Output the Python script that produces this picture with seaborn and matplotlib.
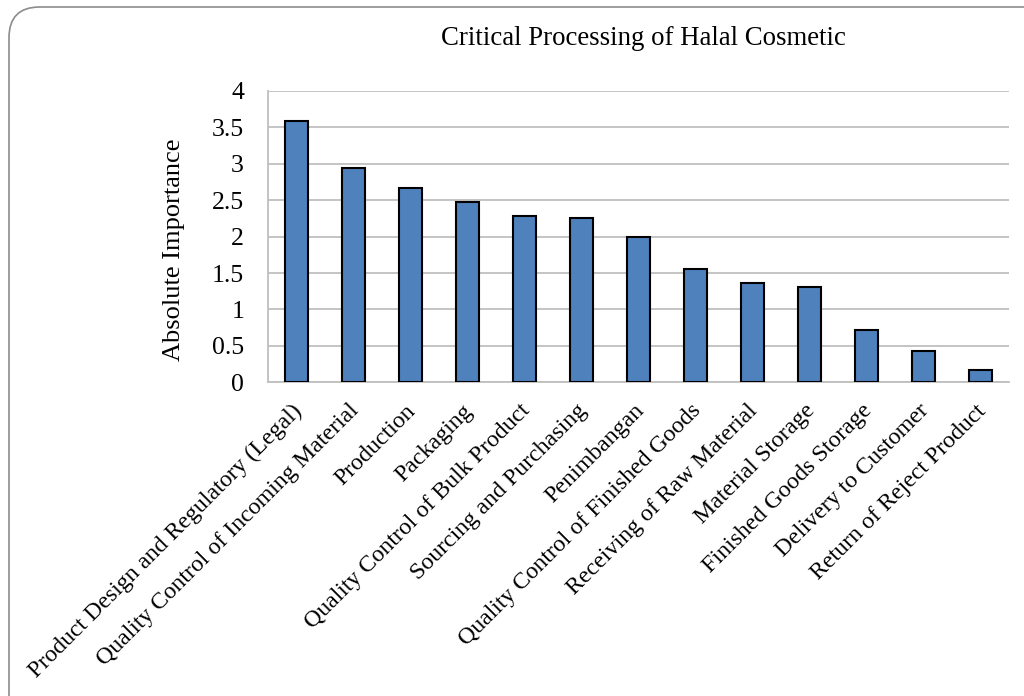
import matplotlib
matplotlib.use("Agg")
import matplotlib.pyplot as plt
from matplotlib.patches import FancyBboxPatch
from matplotlib.transforms import ScaledTranslation
import seaborn as sns
import pandas as pd

categories = [
    "Product Design and Regulatory (Legal)",
    "Quality Control of Incoming Material",
    "Production",
    "Packaging",
    "Quality Control of Bulk Product",
    "Sourcing and Purchasing",
    "Penimbangan",
    "Quality Control of Finished Goods",
    "Receiving of Raw Material",
    "Material Storage",
    "Finished Goods Storage",
    "Delivery to Customer",
    "Return of Reject Product",
]
importance = [3.59, 2.94, 2.67, 2.47, 2.28, 2.26, 2.00, 1.55, 1.37, 1.31, 0.72, 0.43, 0.17]
y_ticks = [0, 0.5, 1, 1.5, 2, 2.5, 3, 3.5, 4]
y_tick_labels = ["0", "0.5", "1", "1.5", "2", "2.5", "3", "3.5", "4"]

df = pd.DataFrame({"process": categories, "importance": importance})

sns.set_theme(style="white")
plt.rcParams["font.family"] = ["Liberation Serif", "DejaVu Serif"]
plt.rcParams["text.color"] = "black"
plt.rcParams["xtick.color"] = "black"
plt.rcParams["ytick.color"] = "black"
plt.rcParams["axes.labelcolor"] = "black"

fig = plt.figure(figsize=(10.24, 6.96), dpi=100)
ax = fig.add_axes([0.2614, 0.4507, 0.7236, 0.4186])

sns.barplot(data=df, x="process", y="importance", ax=ax, color="#4F81BD",
            width=0.4, edgecolor="black", linewidth=1.5, saturation=1, zorder=3)

ax.set_ylim(0, 4)
ax.set_xlim(-0.5, len(categories) - 0.5)
ax.set_yticks(y_ticks)
ax.set_yticklabels(y_tick_labels, fontsize=18.5)
ax.yaxis.grid(True, color="#BFBFBF", linewidth=1.3, zorder=0)
ax.set_axisbelow(True)
ax.tick_params(axis="both", length=0)
ax.tick_params(axis="y", pad=17)
ax.set_xticks(range(len(categories)))
ax.set_xticklabels(categories, rotation=45, ha="right", rotation_mode="anchor", fontsize=17.2)
ax.tick_params(axis="x", pad=13)
shift = ScaledTranslation(-5 / 100, 0, fig.dpi_scale_trans)
for lbl in ax.get_xticklabels():
    lbl.set_transform(lbl.get_transform() + shift)
ax.set_xlabel("")
ax.set_ylabel("Absolute Importance", fontsize=19)
ax.yaxis.set_label_coords(-0.111, 0.454)

for side in ("top", "right"):
    ax.spines[side].set_visible(False)
for side in ("left", "bottom"):
    ax.spines[side].set_color("#BFBFBF")
    ax.spines[side].set_linewidth(1.3)

fig.text(0.628, 0.945, "Critical Processing of Halal Cosmetic", ha="center", va="center", fontsize=19.3)

# rounded frame; its bottom and right edges run past the canvas
frame = FancyBboxPatch((9 / 1024, -0.06), 1.06, 1 - 7 / 696 + 0.06, transform=fig.transFigure,
                       boxstyle="round,pad=0,rounding_size=0.03", mutation_aspect=1024 / 696,
                       facecolor="none", edgecolor="#8C8C8C", linewidth=1.2, clip_on=False)
fig.patches.append(frame)

fig.savefig("out.png", dpi=100)
